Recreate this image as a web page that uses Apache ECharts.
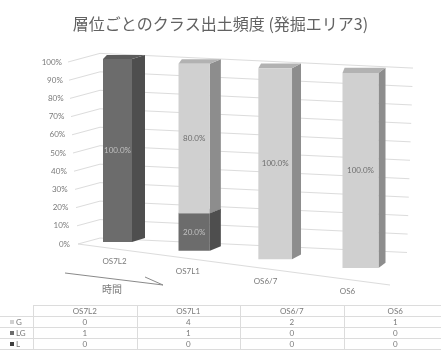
<!DOCTYPE html>
<html><head><meta charset="utf-8">
<script src="https://cdn.jsdelivr.net/npm/echarts@6/dist/echarts.min.js"></script>
<style>html,body{margin:0;padding:0;background:#fff}#c{width:441px;height:351px}</style>
</head><body><div id="c"></div>
<script>
// ---- data ----
const chartTitle = '層位ごとのクラス出土頻度 (発掘エリア3)';
const layers = ['OS7L2', 'OS7L1', 'OS6/7', 'OS6'];
const classNames = ['G', 'LG', 'L'];
const countG = [0, 4, 2, 1];
const countLG = [1, 1, 0, 0];
const countL = [0, 0, 0, 0];
const yTicks = [0, 10, 20, 30, 40, 50, 60, 70, 80, 90, 100];
const timeCaption = '時間';

// ---- styling ----
const LATIN = 'Lato, "Open Sans", sans-serif';
const CJK = '"Noto Sans CJK JP", sans-serif';
const LINE = '#dcdcdc';
const TXT = '#7a7a7a';
const faces = {
  G:  { front: '#d0d0d0', side: '#8d8d8d', top: '#b2b2b2', label: '#6e6e6e' },
  LG: { front: '#6c6c6c', side: '#4e4e4e', top: '#5c5c5c', label: '#c0c0c0' },
  L:  { front: '#3e3e3e', side: '#2c2c2c', top: '#363636', label: '#c0c0c0' }
};

const GRID = { left: 77, top: 62, width: 324, height: 182 };
const FLOOR_Y = GRID.top + GRID.height;

// percentage shares per layer
const counts = { G: countG, LG: countLG, L: countL };
const totals = layers.map((_, i) => countG[i] + countLG[i] + countL[i]);
const share = name => counts[name].map((c, i) => totals[i] ? c / totals[i] * 100 : 0);

// stacking order, bottom to top: L, LG, G
const stackOrder = ['L', 'LG', 'G'];
const stacked = {};
(function () {
  const acc = layers.map(() => 0);
  stackOrder.forEach(name => {
    const s = share(name);
    stacked[name] = layers.map((_, i) => {
      const row = [i, acc[i], acc[i] + s[i], s[i]];
      acc[i] += s[i];
      return row;
    });
  });
})();

// perspective helpers: t runs 0..1 from the first to the last category
function catT(api, x) {
  const a = api.coord([0, 0])[0], b = api.coord([layers.length - 1, 0])[0];
  return { t: (x - a) / (b - a), a: a, b: b };
}
function barGeom(t) {
  return {
    base: 242 + 26 * t,      // front bottom edge
    h: 183 + 12 * t,         // full 100% height
    w: 29 + 7 * t,           // front width
    s: 13 - 6 * t,           // visible side depth
    dy: 4 + 1.2 * t          // rise of the top face
  };
}
function screenX(api, x) {
  const k = catT(api, x);
  return k.a + (k.b - k.a) * (0.92 * k.t + 0.08 * k.t * k.t);
}
function projY(g, flatY) {
  return g.base - (FLOOR_Y - flatY) / GRID.height * g.h;
}
// front edge of the floor
const floorFront = x => 244 + (x - 78) * 41 / 312;

function boxRenderer(name) {
  const col = faces[name];
  return function (params, api) {
    const i = api.value(0), v0 = api.value(1), v1 = api.value(2), p = api.value(3);
    if (!(v1 - v0 > 0)) return null;
    const c0 = api.coord([i, v0]), c1 = api.coord([i, v1]);
    const t = catT(api, c0[0]).t;
    const g = barGeom(t);
    const cx = screenX(api, c0[0]);
    const yb = projY(g, c0[1]), yt = projY(g, c1[1]);
    const x0 = cx - g.w / 2, x1 = cx + g.w / 2;
    return {
      type: 'group',
      children: [
        { type: 'polygon', shape: { points: [[x1, yt], [x1 + g.s, yt - g.dy], [x1 + g.s, yb - g.dy], [x1, yb]] },
          style: { fill: col.side } },
        { type: 'polygon', shape: { points: [[x0, yt], [x1, yt], [x1 + g.s, yt - g.dy], [x0 + g.s * 0.3, yt - g.dy]] },
          style: { fill: col.top } },
        { type: 'rect', shape: { x: x0, y: yt, width: g.w, height: yb - yt },
          style: { fill: col.front } },
        { type: 'text', style: { x: cx, y: (yt + yb) / 2, text: p.toFixed(1) + '%', fill: col.label,
            font: '8px ' + LATIN, align: 'center', verticalAlign: 'middle' } }
      ]
    };
  };
}

// gridlines on the left and back walls, with the tick labels
function wallRenderer(params, api) {
  const v = api.value(0);
  const yv = api.coord([0, v])[1];
  const t = (yv - GRID.top) / GRID.height;
  const fx = 68 + 10 * t;
  const cornerX = 100;
  const cy = yv - 0.27 * (cornerX - fx);
  const rx = 413 - 6 * t;
  const ry = cy + 0.047 * (rx - cornerX);
  return {
    type: 'group',
    children: [
      { type: 'polyline', shape: { points: [[fx, yv], [cornerX, cy], [rx, ry]] },
        style: { stroke: LINE, lineWidth: 1, fill: null } },
      { type: 'text', style: { x: 62 + 8 * t, y: yv, text: v + '%', fill: TXT, font: '8px ' + LATIN,
          align: 'right', verticalAlign: 'middle' } }
    ]
  };
}

function categoryRenderer(params, api) {
  const i = api.value(0);
  const c = api.coord([i, 0]);
  const t = catT(api, c[0]).t;
  const x = screenX(api, c[0]) - 3 - 10 * t;
  return { type: 'text', style: { x: x, y: floorFront(x) + 12.5, text: layers[i], fill: TXT,
    font: '8px ' + LATIN, align: 'center', verticalAlign: 'middle' } };
}

// data table below the plot
function buildTable() {
  const els = [];
  const top = 305, rowH = 11, labelW = 33, colW = 103.5;
  const rows = classNames.length + 1;
  const right = 445;
  for (let r = 0; r <= rows; r++) {
    const y = Math.round(top + r * rowH) + 0.5;
    els.push({ type: 'line', shape: { x1: r === 0 ? labelW : 0, y1: y, x2: right, y2: y },
      style: { stroke: LINE, lineWidth: 1 } });
  }
  for (let c = 0; c <= layers.length; c++) {
    const x = Math.round(labelW + c * colW) + 0.5;
    els.push({ type: 'line', shape: { x1: x, y1: top, x2: x, y2: top + rows * rowH },
      style: { stroke: LINE, lineWidth: 1 } });
  }
  layers.forEach((name, c) => {
    els.push({ type: 'text', x: labelW + (c + 0.5) * colW, y: top + rowH / 2 + 0.5,
      style: { text: name, fill: TXT, font: '8px ' + LATIN, align: 'center', verticalAlign: 'middle' } });
  });
  classNames.forEach((name, r) => {
    const yc = top + (r + 1.5) * rowH + 0.5;
    els.push({ type: 'rect', shape: { x: 10, y: yc - 2, width: 4, height: 4 },
      style: { fill: faces[name].front } });
    els.push({ type: 'text', x: 16, y: yc,
      style: { text: name, fill: TXT, font: '8px ' + LATIN, align: 'left', verticalAlign: 'middle' } });
    counts[name].forEach((v, c) => {
      els.push({ type: 'text', x: labelW + (c + 0.5) * colW, y: yc,
        style: { text: String(v), fill: TXT, font: '8px ' + LATIN, align: 'center', verticalAlign: 'middle' } });
    });
  });
  return els;
}

const chart = echarts.init(document.getElementById('c'), null, { renderer: 'canvas' });
chart.setOption({
  backgroundColor: '#ffffff',
  animation: false,
  title: {
    text: chartTitle, left: 'center', top: 11,
    textStyle: { fontFamily: CJK, fontSize: 16, fontWeight: 'normal', color: '#626262' }
  },
  grid: GRID,
  xAxis: { type: 'category', data: layers, show: false },
  yAxis: { type: 'value', min: 0, max: 100, interval: 10, show: false },
  series: [
    { type: 'custom', name: 'walls', renderItem: wallRenderer, data: yTicks.map(v => [v]),
      encode: { y: 0 }, clip: false, silent: true, z: 1 },
    { type: 'custom', name: 'floor', clip: false, silent: true, z: 1, data: [[0]],
      renderItem: (p, api) => ({ type: 'line', shape: { x1: 78, y1: floorFront(78), x2: 390, y2: floorFront(390) },
        style: { stroke: LINE, lineWidth: 1 } }) },
    { type: 'custom', name: 'categories', renderItem: categoryRenderer, data: layers.map((_, i) => [i]),
      clip: false, silent: true, z: 2 },
    ...stackOrder.map(name => ({
      type: 'custom', name: name, renderItem: boxRenderer(name), data: stacked[name],
      encode: { x: 0, y: [1, 2] }, clip: false, z: 3
    }))
  ],
  graphic: [
    { type: 'polyline', shape: { points: [[65, 273], [163, 285], [145, 277]] },
      style: { stroke: '#8a8a8a', lineWidth: 1, fill: null } },
    { type: 'text', x: 112, y: 289, style: { text: timeCaption, fill: TXT, font: '10px ' + CJK,
      align: 'center', verticalAlign: 'middle' } },
    ...buildTable()
  ]
});
</script>
</body></html>
